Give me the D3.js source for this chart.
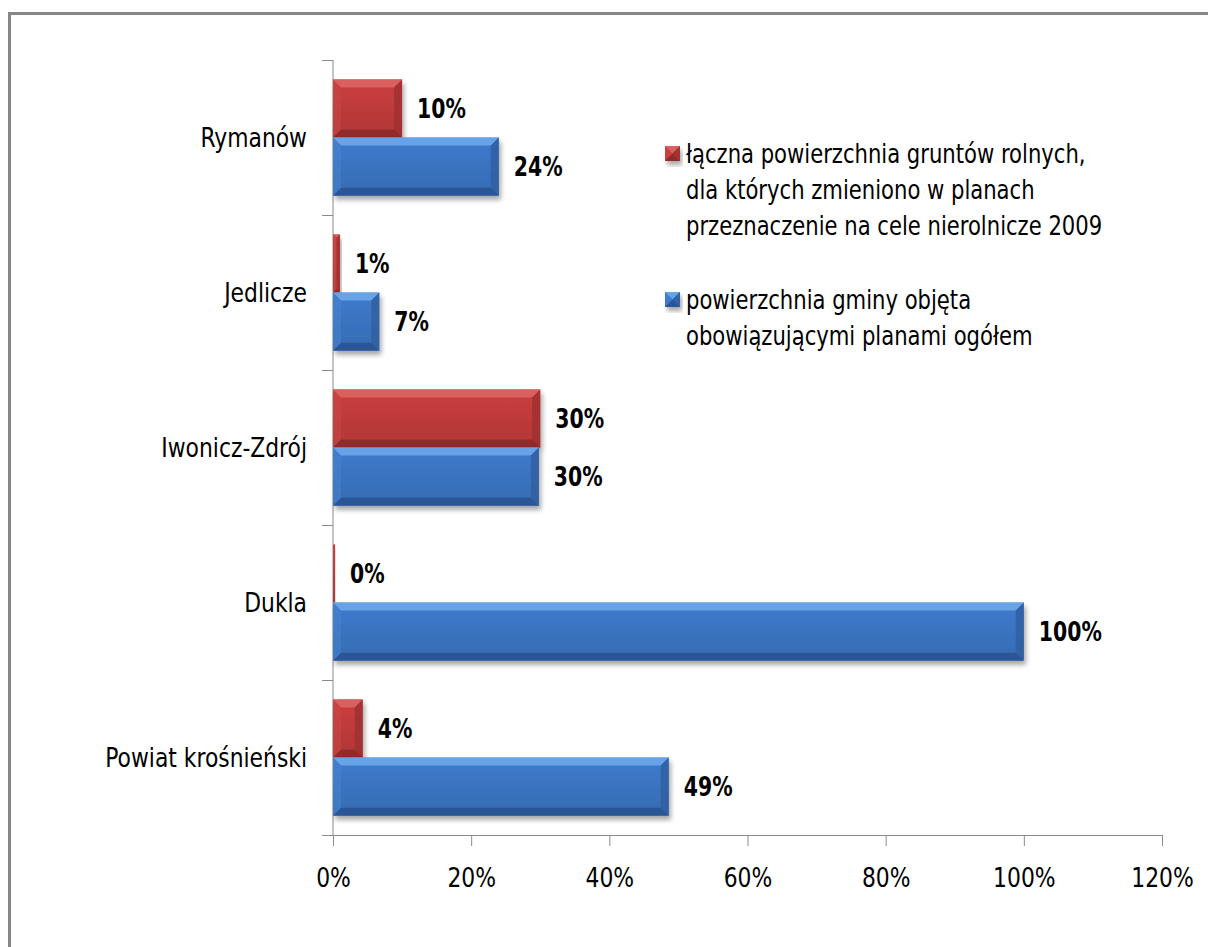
<!DOCTYPE html>
<html>
<head>
<meta charset="utf-8">
<script src="https://cdn.jsdelivr.net/npm/d3@7"></script>
<style>
  html, body { margin: 0; padding: 0; background: #fff; }
  svg { display: block; }
  text { font-family: "Liberation Sans Narrow", "DejaVu Sans Condensed", "Open Sans", sans-serif; fill: #000; }
</style>
</head>
<body>
<svg id="chart" width="1208" height="947"></svg>
<script>
const categories = ["Rymanów", "Jedlicze", "Iwonicz-Zdrój", "Dukla", "Powiat krośnieński"];
const seriesNames = [
  ["łączna powierzchnia gruntów rolnych,", "dla których zmieniono w planach", "przeznaczenie na cele nierolnicze 2009"],
  ["powierzchnia gminy objęta", "obowiązującymi planami ogółem"]
];
const redValues  = [0.10, 0.01, 0.30, 0.003, 0.043];
const blueValues = [0.24, 0.067, 0.298, 1.00, 0.486];
const redLabels  = ["10%", "1%", "30%", "0%", "4%"];
const blueLabels = ["24%", "7%", "30%", "100%", "49%"];
const xTicks = [0, 0.2, 0.4, 0.6, 0.8, 1.0, 1.2];

const palette = [
  { main: "#c13b3b", top: "#dc6a66", bottom: "#862626", right: "#9e2e2e", left: "#c94a48" },
  { main: "#3b75c3", top: "#72aeee", bottom: "#284f8c", right: "#2f5f9f", left: "#4a84d0" }
];

const SX = 0.9, SXB = 0.84, SXL = 0.87;
const svg = d3.select("#chart");
const W = 1208, H = 947;

// frame
svg.append("rect").attr("x", 9.5).attr("y", 13.5).attr("width", W + 20).attr("height", H + 20)
  .attr("fill", "#fff").attr("stroke", "#878787").attr("stroke-width", 3);

const defs = svg.append("defs");
const f = defs.append("filter").attr("id", "shadow").attr("x", "-10%").attr("y", "-20%").attr("width", "130%").attr("height", "160%");
f.append("feGaussianBlur").attr("in", "SourceAlpha").attr("stdDeviation", 2.5).attr("result", "b");
f.append("feOffset").attr("in", "b").attr("dx", 2).attr("dy", 4).attr("result", "o");
f.append("feComponentTransfer").attr("in", "o").attr("result", "o2")
  .append("feFuncA").attr("type", "linear").attr("slope", 0.35);
const fm = f.append("feMerge");
fm.append("feMergeNode").attr("in", "o2");
fm.append("feMergeNode").attr("in", "SourceGraphic");

palette.forEach((p, i) => {
  const g = defs.append("linearGradient").attr("id", "grad" + i).attr("x1", 0).attr("y1", 0).attr("x2", 0).attr("y2", 1);
  g.append("stop").attr("offset", "0%").attr("stop-color", d3.color(p.main).brighter(0.15));
  g.append("stop").attr("offset", "100%").attr("stop-color", d3.color(p.main).darker(0.25));
});

function txt(parent, tx, ty, s, opts = {}) {
  const sx = opts.sx || (opts.bold ? SXB : SX);
  const t = parent.append("text")
    .attr("transform", `translate(${tx},${ty}) scale(${sx},1)`)
    .attr("dy", "0.35em").attr("font-size", opts.size || 27)
    .attr("text-anchor", opts.anchor || "start").text(s);
  if (opts.bold) t.attr("font-weight", "bold");
  return t;
}

const x = d3.scaleLinear().domain([0, 1.2]).range([333, 1162]);
const y = d3.scaleBand().domain(categories).range([60, 835]).paddingInner(0.25).paddingOuter(0.125);
const sub = d3.scaleBand().domain([0, 1]).range([0, y.bandwidth()]);

// axes
const xAxis = d3.axisBottom(x).tickValues(xTicks).tickFormat(d3.format(".0%")).tickSize(11).tickSizeOuter(0);
const gx = svg.append("g").attr("transform", `translate(0,${y.range()[1]})`).call(xAxis);
gx.select(".domain").attr("stroke", "#8a8a8a").attr("d", `M${x(0) - 11},0.5H${x(1.2)}`);
gx.selectAll(".tick line").attr("stroke", "#8a8a8a");
gx.selectAll(".tick text").attr("font-size", 27).attr("dy", "0.35em").attr("y", 0)
  .attr("transform", `translate(0,43) scale(${SX},1)`)
  .style("font-family", '"Liberation Sans Narrow", "DejaVu Sans Condensed", sans-serif').attr("fill", "#000");

const gy = svg.append("g");
gy.append("line").attr("x1", x(0)).attr("x2", x(0)).attr("y1", y.range()[0]).attr("y2", y.range()[1]).attr("stroke", "#8a8a8a");
const boundaries = categories.map(c => y(c) - y.step() * y.paddingInner() / 2).concat([y.range()[1]]);
gy.selectAll("line.tk").data(boundaries).join("line").attr("class", "tk")
  .attr("x1", x(0) - 11).attr("x2", x(0)).attr("y1", d => Math.round(d) + 0.5).attr("y2", d => Math.round(d) + 0.5)
  .attr("stroke", "#8a8a8a");
categories.forEach(c => txt(gy, 307, y(c) + y.bandwidth() / 2, c, { anchor: "end" }));

function bevelBar(g, x0, x1, y0, y1, p, gi) {
  const w = x1 - x0, h = y1 - y0;
  const b = Math.min(8, w / 2, h / 2);
  const bg = g.append("g").attr("filter", "url(#shadow)");
  bg.append("rect").attr("x", x0).attr("y", y0).attr("width", Math.max(w, 0.5)).attr("height", h).attr("fill", `url(#grad${gi})`);
  if (w < 3) return;
  bg.append("polygon").attr("points", [[x0, y0], [x1, y0], [x1 - b, y0 + b], [x0 + b, y0 + b]].join(" ")).attr("fill", p.top).attr("opacity", 0.8);
  bg.append("polygon").attr("points", [[x0, y1], [x1, y1], [x1 - b, y1 - b], [x0 + b, y1 - b]].join(" ")).attr("fill", p.bottom).attr("opacity", 0.75);
  bg.append("polygon").attr("points", [[x1, y0], [x1, y1], [x1 - b, y1 - b], [x1 - b, y0 + b]].join(" ")).attr("fill", p.right).attr("opacity", 0.8);
  bg.append("polygon").attr("points", [[x0, y0], [x0, y1], [x0 + b, y1 - b], [x0 + b, y0 + b]].join(" ")).attr("fill", p.left).attr("opacity", 0.5);
}

const barsG = svg.append("g");
const series = [
  { values: redValues, labels: redLabels },
  { values: blueValues, labels: blueLabels }
];
series.forEach((s, si) => {
  categories.forEach((c, ci) => {
    const y0 = y(c) + sub(si), y1 = y0 + sub.bandwidth();
    bevelBar(barsG, x(0), x(s.values[ci]), y0, y1, palette[si], si);
  });
});
series.forEach((s, si) => {
  categories.forEach((c, ci) => {
    const y0 = y(c) + sub(si);
    txt(barsG, x(s.values[ci]) + 15, y0 + sub.bandwidth() / 2, s.labels[ci], { bold: true });
  });
});

// legend
const legend = svg.append("g");
const legendTop = [154, 300];
seriesNames.forEach((lines, i) => {
  const cy = legendTop[i];
  bevelBar(legend, 665, 680, cy - 8, cy + 7, palette[i], i);
  lines.forEach((ln, li) => txt(legend, 686, cy + li * 36, ln, { sx: SXL }));
});
</script>
</body>
</html>
